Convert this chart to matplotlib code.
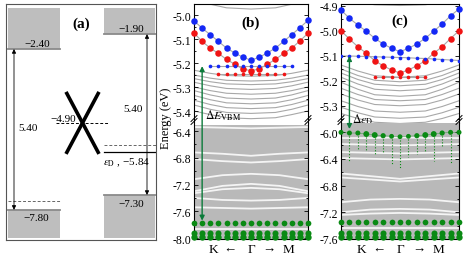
import numpy as np
import matplotlib.pyplot as plt
from matplotlib.patches import ConnectionPatch
from matplotlib.lines import Line2D
from matplotlib.ticker import FormatStrFormatter

plt.rcParams['font.family'] = ['Liberation Serif', 'DejaVu Serif']
plt.rcParams['mathtext.fontset'] = 'stix'
plt.rcParams['axes.unicode_minus'] = False

W, H = 463, 255

# ---------------- panel (a): schematic band alignment (eV)
a_levels = [-2.40, -1.90, -7.80, -7.30]
a_labels = ['\u22122.40', '\u22121.90', '\u22127.80', '\u22127.30']
a_gap = '5.40'
a_dirac = -4.90
a_eps_d = -5.84
a_cone_x = [60, 93]
a_cone_e = [-3.84, -5.92]
a_dash_right = -5.62
a_dash_left = -7.50

# ---------------- panels (b), (c): k index, K <- Gamma -> M
k = np.arange(15)
k_band = [0, 2, 4, 7, 10, 12, 14]
k_streak = [0, 3.5, 7, 10.5, 14]

# (b) surface states
b_blue = [-5.024, -5.055, -5.082, -5.110, -5.138, -5.158, -5.176, -5.188,
          -5.176, -5.158, -5.138, -5.110, -5.082, -5.053, -5.022]
b_red = [-5.075, -5.110, -5.138, -5.160, -5.185, -5.205, -5.225, -5.232,
         -5.225, -5.205, -5.185, -5.160, -5.138, -5.108, -5.076]
b_blue_small_k = k[2:13]
b_blue_small = [-5.213] * 11
b_red_small_k = k[3:12]
b_red_small = [-5.245] * 9
# gray bulk bands K..Gamma (mirrored to M)
b_top_band = [-4.935, -4.955, -4.970, -4.975]
b_bands = [
    [-5.230, -5.243, -5.252, -5.255],
    [-5.250, -5.263, -5.272, -5.275],
    [-5.265, -5.278, -5.287, -5.290],
    [-5.280, -5.295, -5.306, -5.310],
    [-5.300, -5.315, -5.326, -5.330],
    [-5.315, -5.333, -5.346, -5.350],
    [-5.335, -5.353, -5.366, -5.370],
    [-5.355, -5.373, -5.386, -5.390],
    [-5.375, -5.393, -5.406, -5.410],
    [-5.400, -5.415, -5.428, -5.432],
]
b_bulk_top = -6.31
b_streaks = [
    [-6.34, -6.35, -6.36, -6.35, -6.34],
    [-6.72, -6.74, -6.77, -6.74, -6.72],
    [-6.82, -6.85, -6.87, -6.85, -6.82],
    [-7.12, -7.06, -7.04, -7.06, -7.12],
    [-7.30, -7.22, -7.19, -7.22, -7.30],
    [-7.33, -7.27, -7.25, -7.27, -7.33],
    [-7.40, -7.43, -7.44, -7.43, -7.40],
    [-7.54, -7.55, -7.56, -7.55, -7.54],
    [-7.86, -7.86, -7.86, -7.86, -7.86],
]
b_green_rows = [-7.78, -7.925, -7.99]
b_arrow = (1, -5.213, -7.74)

# (c) surface states
c_blue = [-4.916, -4.949, -4.976, -5.001, -5.029, -5.052, -5.069, -5.083,
          -5.069, -5.052, -5.029, -5.001, -4.972, -4.939, -4.912]
c_red = [-4.999, -5.032, -5.063, -5.089, -5.119, -5.139, -5.156, -5.168,
         -5.156, -5.139, -5.119, -5.089, -5.063, -5.030, -4.999]
c_blue_small = [-5.100, -5.100, -5.101, -5.102, -5.103, -5.104, -5.105, -5.106,
                -5.107, -5.109, -5.110, -5.112, -5.114, -5.116, -5.118]
c_red_small_k = k[4:11]
c_red_small = [-5.182] * 7
c_top_band = [-4.870, -4.885, -4.895, -4.898]
c_bands = [
    [-5.136, -5.160, -5.179, -5.185],
    [-5.152, -5.178, -5.197, -5.203],
    [-5.168, -5.194, -5.213, -5.219],
    [-5.185, -5.212, -5.233, -5.239],
    [-5.205, -5.233, -5.255, -5.261],
    [-5.229, -5.254, -5.274, -5.279],
    [-5.252, -5.276, -5.294, -5.299],
    [-5.279, -5.302, -5.320, -5.325],
    [-5.305, -5.327, -5.344, -5.349],
    [-5.330, -5.350, -5.365, -5.370],
]
c_bulk_top = -5.865
c_streaks = [
    [-6.09, -6.09, -6.08, -6.09, -6.09],
    [-6.18, -6.19, -6.20, -6.19, -6.18],
    [-6.30, -6.31, -6.32, -6.31, -6.30],
    [-6.39, -6.40, -6.41, -6.40, -6.39],
    [-6.62, -6.66, -6.70, -6.66, -6.62],
    [-6.68, -6.71, -6.74, -6.71, -6.68],
    [-7.05, -7.01, -7.00, -7.01, -7.05],
    [-7.20, -7.16, -7.15, -7.16, -7.20],
    [-7.24, -7.22, -7.21, -7.22, -7.24],
    [-7.44, -7.44, -7.44, -7.44, -7.44],
]
c_dirac_row = [-6.005, -6.015, -6.015, -6.030, -6.045, -6.055, -6.064, -6.070,
               -6.064, -6.055, -6.045, -6.030, -6.015, -6.005, -6.005]
c_dirac_size = [13, 13, 13, 18, 18, 14, 12, 12, 12, 14, 18, 18, 14, 13, 13]
c_stem_end = [-6.20, -6.45, -6.25, -6.28, -6.35, -6.30, -6.50, -6.55,
              -6.38, -6.33, -6.30, -6.43, -6.23, -6.48, -6.25]
c_green_rows = [-7.35, -7.514, -7.565]
c_arrow = (1, -5.100, -5.955)

BLUE = '#1428f5'
RED = '#f01414'
GREEN = '#0a8a14'
ARROW_GREEN = '#0b7a3a'
LINE_GRAY = '#a8a8a8'
BULK_GRAY = '#b9b9b9'


def mirror(v):
    return list(v) + list(v[-2::-1])


def make_axes(fig, x0, y0, x1, y1):
    return fig.add_axes([x0 / W, 1 - y1 / H, (x1 - x0) / W, (y1 - y0) / H])


def style_y(ax, major, minor):
    ax.set_xlim(0, 14)
    ax.set_xticks([])
    ax.set_yticks(major)
    minor = [m for m in np.round(minor, 3) if min(abs(m - np.array(major))) > 1e-3]
    ax.set_yticks(minor, minor=True)
    ax.yaxis.set_major_formatter(FormatStrFormatter('%.1f'))
    ax.tick_params(axis='y', which='both', direction='in', left=True, right=True,
                   labelsize=8.5, width=0.6, pad=2)
    ax.tick_params(axis='y', which='major', length=3)
    ax.tick_params(axis='y', which='minor', length=1.6)
    for s in ax.spines.values():
        s.set_linewidth(0.8)


def break_marks(fig, x, y):
    for dy in (-1.5, 1.5):
        fig.add_artist(Line2D([(x - 3) / W, (x + 3) / W],
                              [1 - (y + dy + 3) / H, 1 - (y + dy - 3) / H],
                              color='k', lw=0.7))


def draw_upper(ax, top_band, bands, blue, red, blue_small_k, blue_small,
               red_small_k, red_small):
    ax.plot(k_band, mirror(top_band), color=LINE_GRAY, lw=0.8, zorder=1)
    for b in bands:
        ax.plot(k_band, mirror(b), color=LINE_GRAY, lw=0.8, zorder=1)
    for yy in (blue, red):
        ax.plot(k, yy, color=LINE_GRAY, lw=0.8, zorder=1)
    ax.plot(blue_small_k, blue_small, color=LINE_GRAY, lw=0.8, zorder=1)
    ax.plot(red_small_k, red_small, color=LINE_GRAY, lw=0.8, zorder=1)
    ax.scatter(k, blue, s=22, color=BLUE, lw=0, zorder=3, clip_on=False)
    ax.scatter(k, red, s=22, color=RED, lw=0, zorder=3, clip_on=False)
    ax.scatter(blue_small_k, blue_small, s=7, color=BLUE, lw=0, zorder=3)
    ax.scatter(red_small_k, red_small, s=7, color=RED, lw=0, zorder=3)
    ax.spines['bottom'].set_visible(False)


def draw_lower(ax, bulk_top, lo, streaks, rows):
    ax.axhspan(lo, bulk_top, color=BULK_GRAY, lw=0, zorder=0)
    for s in streaks:
        ax.plot(k_streak, s, color='white', lw=1.3, alpha=0.85, zorder=1)
    for e, size in zip(rows, [17, 19, 21]):
        ax.scatter(k, [e] * len(k), s=size, color=GREEN, lw=0,
                   zorder=3, clip_on=False)
    ax.spines['top'].set_visible(False)
    for x, lab in zip([2.4, 4.45, 7.0, 9.25, 11.6], ['K', '\u2190', '\u0393', '\u2192', 'M']):
        ax.text(x, -0.035, lab, transform=ax.get_xaxis_transform(),
                ha='center', va='top', fontsize=9.5)


fig = plt.figure(figsize=(4.63, 2.55), dpi=100)

# ---------------- (a)
ax = make_axes(fig, 6, 5, 156, 241)
ax.set_xlim(0, 150)
ax.set_ylim(-8.81, -0.89)
ax.set_xticks([])
ax.set_yticks([])
for s in ax.spines.values():
    s.set_linewidth(0.8)
    s.set_color('#555555')
rect_x = [(2, 54), (98, 149), (2, 54), (98, 149)]
rect_far = [-1.02, -1.02, -8.74, -8.74]
for (x0, x1), e, far in zip(rect_x, a_levels, rect_far):
    ax.fill_between([x0, x1], e, far, color='#bebebe', lw=0)
    ax.plot([x0, x1], [e, e], color='#8a8a8a', lw=1.3)
label_pos = [(31, -2.20), (125, -1.72), (30, -8.07), (125, -7.57)]
for (x, y), lab in zip(label_pos, a_labels):
    ax.text(x, y, lab, ha='center', va='center', fontsize=8)
ax.annotate('', xy=(8, a_levels[2]), xytext=(8, a_levels[0]),
            arrowprops=dict(arrowstyle='<|-|>', lw=0.6, color='k',
                            mutation_scale=6, shrinkA=0, shrinkB=0))
ax.annotate('', xy=(141, a_levels[3]), xytext=(141, a_levels[1]),
            arrowprops=dict(arrowstyle='<|-|>', lw=0.6, color='k',
                            mutation_scale=6, shrinkA=0, shrinkB=0))
ax.text(21.5, -5.05, a_gap, ha='center', va='center', fontsize=8)
ax.text(127, -4.41, a_gap, ha='center', va='center', fontsize=8)
ax.plot(a_cone_x, a_cone_e, color='k', lw=2.6, solid_capstyle='butt')
ax.plot(a_cone_x[::-1], a_cone_e, color='k', lw=2.6, solid_capstyle='butt')
ax.plot([50, 103], [a_dirac, a_dirac], color='k', ls='--', lw=0.7, dashes=(3, 2))
ax.text(57.5, -4.73, '\u22124.90', ha='center', va='center', fontsize=8)
ax.plot([98, 150], [a_dash_right, a_dash_right], color='#666666', ls='--', lw=0.7, dashes=(3, 2))
ax.plot([98, 150], [a_eps_d, a_eps_d], color='k', lw=0.9)
ax.plot([2, 54], [a_dash_left, a_dash_left], color='#666666', ls='--', lw=0.7, dashes=(3, 2))
ax.text(97, -6.19, '$\\varepsilon_{\\rm D}$ , \u22125.84', ha='left', va='center', fontsize=8)
ax.text(75.5, -1.53, '(a)', ha='center', va='center', fontsize=11, fontweight='bold')

# ---------------- (b)
bu = make_axes(fig, 194, 5, 308, 124)
bl = make_axes(fig, 194, 124, 308, 240)
bu.set_ylim(-5.45, -4.954)
bl.set_ylim(-8.014, -6.28)
style_y(bu, [-5.0, -5.1, -5.2, -5.3, -5.4], np.arange(-5.45, -4.95, 0.05))
style_y(bl, [-8.0, -7.6, -7.2, -6.8, -6.4], np.arange(-8.0, -6.2, 0.2))
draw_upper(bu, b_top_band, b_bands, b_blue, b_red, b_blue_small_k, b_blue_small,
           b_red_small_k, b_red_small)
draw_lower(bl, b_bulk_top, -8.014, b_streaks, b_green_rows)
bu.text(7, -5.03, '(b)', ha='center', va='center', fontsize=11, fontweight='bold')
bu.text(1.3, -5.415, '$\\Delta E_{\\rm VBM}$', ha='left', va='center', fontsize=8.5)
fig.add_artist(ConnectionPatch(xyA=(b_arrow[0], b_arrow[1]), coordsA=bu.transData,
                               xyB=(b_arrow[0], b_arrow[2]), coordsB=bl.transData,
                               arrowstyle='<|-|>', color=ARROW_GREEN, lw=1.0,
                               mutation_scale=7, shrinkA=0, shrinkB=0))
for x in (194, 308):
    break_marks(fig, x, 121)
fig.text(166 / W, 1 - 118 / H, 'Energy (eV)', rotation=90, ha='center', va='center', fontsize=9)

# ---------------- (c)
cu = make_axes(fig, 341, 5, 459, 124)
cl = make_axes(fig, 341, 124, 459, 240)
cu.set_ylim(-5.368, -4.892)
cl.set_ylim(-7.6, -5.865)
style_y(cu, [-4.9, -5.0, -5.1, -5.2, -5.3], np.arange(-5.35, -4.89, 0.05))
style_y(cl, [-7.6, -7.2, -6.8, -6.4, -6.0], np.arange(-7.6, -5.85, 0.2))
draw_upper(cu, c_top_band, c_bands, c_blue, c_red, k, c_blue_small,
           c_red_small_k, c_red_small)
draw_lower(cl, c_bulk_top, -7.6, c_streaks, c_green_rows)
cl.vlines(k, c_dirac_row, c_stem_end, colors=GREEN, linestyles=':', lw=0.8, zorder=2)
cl.plot(k, c_dirac_row, color=GREEN, lw=0.5, alpha=0.5, zorder=2)
cl.scatter(k, c_dirac_row, s=c_dirac_size, color=GREEN, lw=0, zorder=3, clip_on=False)
cu.text(6.95, -4.956, '(c)', ha='center', va='center', fontsize=11, fontweight='bold')
cu.text(1.3, -5.352, '$\\Delta\\varepsilon_{\\rm D}$', ha='left', va='center', fontsize=8.5)
fig.add_artist(ConnectionPatch(xyA=(c_arrow[0], c_arrow[1]), coordsA=cu.transData,
                               xyB=(c_arrow[0], c_arrow[2]), coordsB=cl.transData,
                               arrowstyle='<|-|>', color=ARROW_GREEN, lw=1.0,
                               mutation_scale=7, shrinkA=0, shrinkB=0))
for x in (341, 459):
    break_marks(fig, x, 121)

fig.savefig('out.png', dpi=100)
